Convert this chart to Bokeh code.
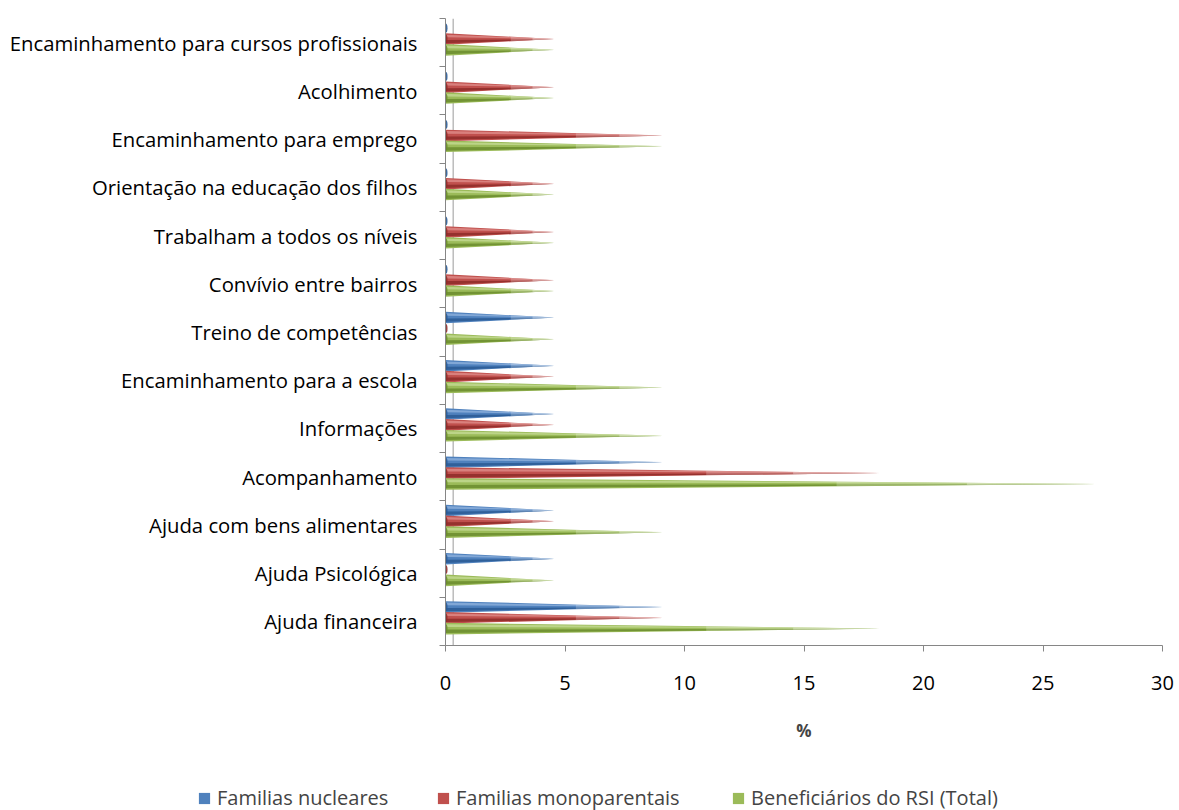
from bokeh.plotting import figure
from bokeh.layouts import column, row
from bokeh.models import FixedTicker, Legend, LegendItem, Span
from bokeh.embed import file_html
from bokeh.resources import INLINE

# Categories, bottom to top
categories = [
    "Ajuda financeira",
    "Ajuda Psicológica",
    "Ajuda com bens alimentares",
    "Acompanhamento",
    "Informações",
    "Encaminhamento para a escola",
    "Treino de competências",
    "Convívio entre bairros",
    "Trabalham a todos os níveis",
    "Orientação na educação dos filhos",
    "Encaminhamento para emprego",
    "Acolhimento",
    "Encaminhamento para cursos profissionais",
]

# Percentages per group
familias_nucleares = [9.09, 4.55, 4.55, 9.09, 4.55, 4.55, 4.55, 0, 0, 0, 0, 0, 0]
familias_monoparentais = [9.09, 0, 4.55, 18.18, 4.55, 4.55, 0, 4.55, 4.55, 4.55, 9.09, 4.55, 4.55]
beneficiarios_rsi = [18.18, 4.55, 9.09, 27.27, 9.09, 9.09, 4.55, 4.55, 4.55, 4.55, 9.09, 4.55, 4.55]

series_names = ["Familias nucleares", "Familias monoparentais", "Beneficiários do RSI (Total)"]
series_values = [familias_nucleares, familias_monoparentais, beneficiarios_rsi]

x_ticks = [0, 5, 10, 15, 20, 25, 30]

# Cone styling per series: base, dark band, light band, vertical offset in the slot
styles = [
    dict(base="#4F81BD", dark="#2A5A94", light="#8DB0DC", offset=0.30),
    dict(base="#C0504D", dark="#8E2B29", light="#DE8C8A", offset=0.075),
    dict(base="#9BBB59", dark="#6B8C2E", light="#C4DB93", offset=-0.15),
]
HALF = 0.12  # half height of the cone base, in category units

FONT = "Open Sans"

p = figure(width=1179, height=770, x_range=(0, 30), y_range=(0, 13),
           output_backend="svg", toolbar_location=None,
           min_border_left=445, min_border_right=17,
           min_border_top=18, min_border_bottom=125)
p.outline_line_color = None
p.grid.visible = False
p.background_fill_color = "white"
p.border_fill_color = "white"

# back wall edge of the 3D floor
p.add_layout(Span(location=0.32, dimension="height", line_color="#9A9A9A",
                  line_width=1, level="underlay"))


def tri(x0, ya, x1, y1, yb):
    return [x0, x1, x0], [ya, y1, yb]


for name, vals, st in zip(series_names, series_values, styles):
    body_xs, body_ys = [], []
    dark_xs, dark_ys = [], []
    light_xs, light_ys = [], []
    fade1_xs, fade1_ys = [], []
    fade2_xs, fade2_ys = [], []
    cap_x, cap_y = [], []
    for i, v in enumerate(vals):
        yc = i + 0.5 + st["offset"]
        xs, ys = tri(0, yc + HALF, v, yc, yc - HALF)
        body_xs.append(xs); body_ys.append(ys)
        xs, ys = tri(0, yc - 0.02, v, yc - 0.005, yc - 0.09)
        dark_xs.append(xs); dark_ys.append(ys)
        xs, ys = tri(0, yc + 0.09, v, yc + 0.005, yc + 0.035)
        light_xs.append(xs); light_ys.append(ys)
        # paler tip
        f = 0.6
        fade1_xs.append([f * v, v, f * v]); fade1_ys.append([yc + HALF * (1 - f), yc, yc - HALF * (1 - f)])
        f = 0.8
        fade2_xs.append([f * v, v, f * v]); fade2_ys.append([yc + HALF * (1 - f), yc, yc - HALF * (1 - f)])
        cap_x.append(0.0); cap_y.append(yc)

    p.patches(body_xs, body_ys, fill_color=st["base"], line_color=None)
    p.patches(dark_xs, dark_ys, fill_color=st["dark"], line_color=None, fill_alpha=0.85)
    p.patches(light_xs, light_ys, fill_color=st["light"], line_color=None, fill_alpha=0.8)
    p.patches(fade1_xs, fade1_ys, fill_color="white", line_color=None, fill_alpha=0.22)
    p.patches(fade2_xs, fade2_ys, fill_color="white", line_color=None, fill_alpha=0.3)
    p.ellipse(x=cap_x, y=cap_y, width=4, height=1.6 * HALF, width_units="screen",
              height_units="data", fill_color=st["dark"], line_color=None, fill_alpha=0.9)

# x axis
xa = p.xaxis[0]
xa.ticker = FixedTicker(ticks=x_ticks)
xa.axis_label = "%"
xa.axis_label_text_font = FONT
xa.axis_label_text_font_style = "bold"
xa.axis_label_text_font_size = "17px"
xa.axis_label_standoff = 26
xa.major_label_text_font = FONT
xa.major_label_text_font_size = "20px"
xa.major_label_text_color = "black"
xa.major_label_standoff = 24
xa.axis_line_color = "#868686"
xa.major_tick_line_color = "#868686"
xa.major_tick_out = 6
xa.major_tick_in = 0
xa.minor_tick_line_color = None

# y axis: labels at slot centres, tick marks at slot boundaries
ya = p.yaxis[0]
ya.ticker = FixedTicker(ticks=[i + 0.5 for i in range(len(categories))],
                        minor_ticks=list(range(len(categories) + 1)))
ya.major_label_overrides = {i + 0.5: c for i, c in enumerate(categories)}
ya.major_label_text_font = FONT
ya.major_label_text_font_size = "20.3px"
ya.major_label_text_color = "black"
ya.major_label_standoff = 22
ya.axis_line_color = "#868686"
ya.major_tick_line_color = None
ya.major_tick_out = 0
ya.major_tick_in = 0
ya.minor_tick_line_color = "#868686"
ya.minor_tick_out = 6
ya.minor_tick_in = 0

# legend strip underneath the chart
leg = figure(width=1179, height=40, x_range=(0, 1179), y_range=(0, 40),
             output_backend="svg", toolbar_location=None,
             min_border_left=0, min_border_right=0, min_border_top=0,
             min_border_bottom=0, x_axis_location=None, y_axis_location=None)
leg.outline_line_color = None
leg.grid.visible = False
leg.border_fill_color = "white"

legend_x = [197, 436, 731]
for name, st, lx in zip(series_names, styles, legend_x):
    swatch = leg.patches([[]], [[]], fill_color=st["base"], line_color=None)
    lg = Legend(items=[LegendItem(label=name, renderers=[swatch])],
                location=(lx, -1), label_text_font=FONT,
                label_text_font_size="20px", glyph_width=14, glyph_height=14,
                label_standoff=6, padding=0, margin=0, label_height=22,
                border_line_color=None, background_fill_alpha=0)
    leg.add_layout(lg, "center")

layout = column(p, row(leg), spacing=0)

open("out.html", "w").write(file_html(layout, INLINE))
